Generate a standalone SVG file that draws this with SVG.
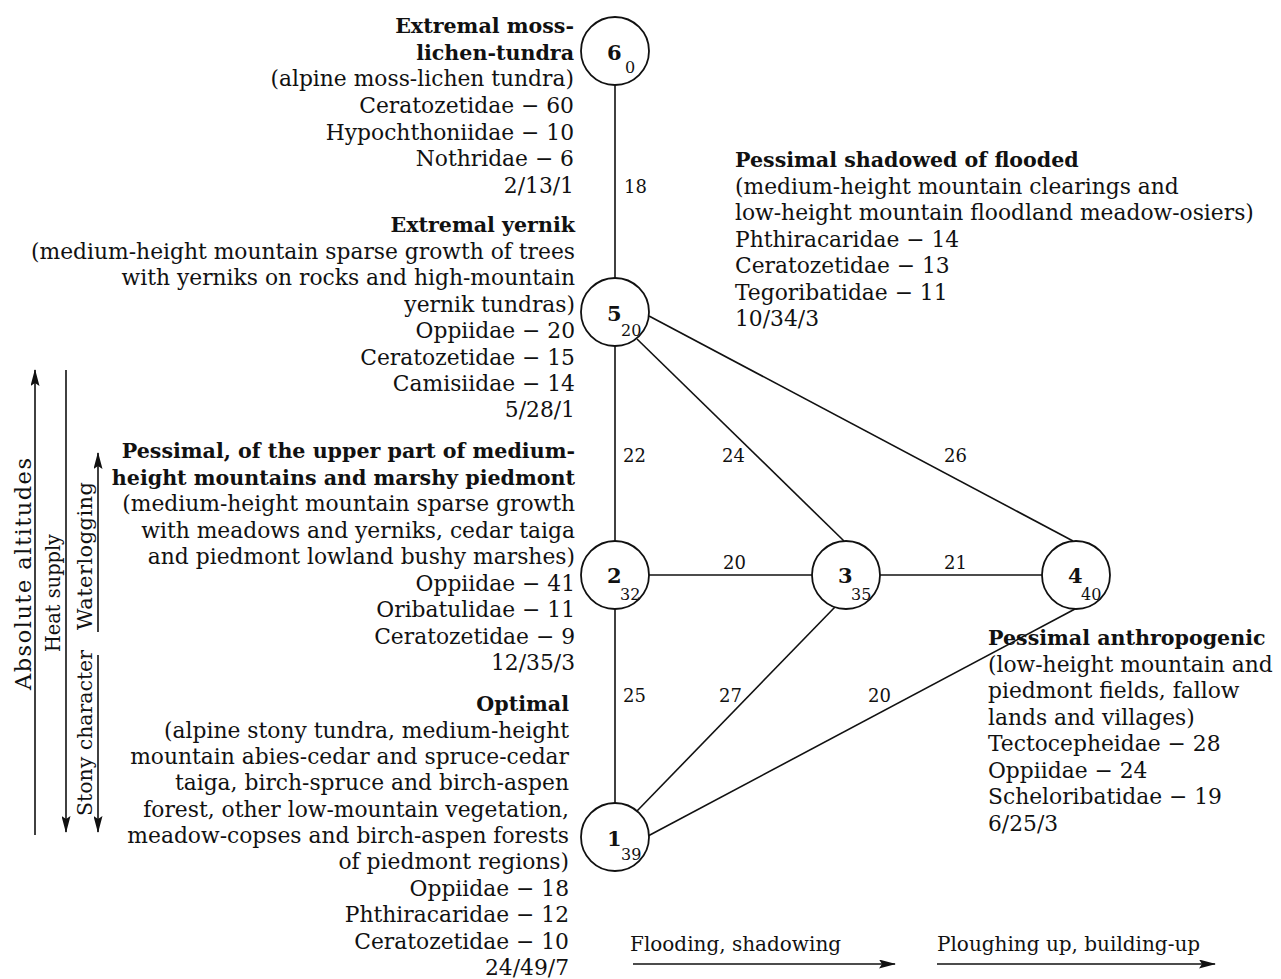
<svg xmlns="http://www.w3.org/2000/svg" width="1281" height="979" viewBox="0 0 1281 979">
<style>
text{font-family:"DejaVu Serif","Liberation Serif",serif;fill:#111;}
.t{font-size:21.8px;}
.b{font-size:20.6px;font-weight:bold;}
.r{text-anchor:end;}
.el{font-size:18px;}
.bl{font-size:20px;}
.vl{font-size:21px;}
.nn{font-size:21px;font-weight:bold;}
.ns{font-size:16px;}
.ln{stroke:#111;stroke-width:1.6;fill:none;}
circle{fill:#fff;stroke:#111;stroke-width:1.8;}
</style>
<defs>
<marker id="ah" viewBox="0 0 17 9" markerWidth="17" markerHeight="9" refX="16" refY="4.5" orient="auto" markerUnits="userSpaceOnUse">
<path d="M0,0 L17,4.5 L0,9 L3,4.5 z" fill="#111"/>
</marker>
</defs>
<rect width="1281" height="979" fill="#fff"/>

<g id="connectors">
<line class="ln" x1="615" y1="85" x2="615" y2="278"/>
<line class="ln" x1="615" y1="346" x2="615" y2="541"/>
<line class="ln" x1="615" y1="609" x2="615" y2="803"/>
<line class="ln" x1="649" y1="575" x2="812" y2="575"/>
<line class="ln" x1="880" y1="575" x2="1042" y2="575"/>
<line class="ln" x1="637" y1="339" x2="844" y2="541"/>
<line class="ln" x1="649" y1="316" x2="1073" y2="541"/>
<line class="ln" x1="637" y1="811" x2="835" y2="607"/>
<line class="ln" x1="648" y1="836" x2="1075" y2="609"/>
<text class="el" x="624" y="193">18</text>
<text class="el" x="623" y="462">22</text>
<text class="el" x="722" y="462">24</text>
<text class="el" x="944" y="462">26</text>
<text class="el" x="723" y="569">20</text>
<text class="el" x="944" y="569">21</text>
<text class="el" x="623" y="702">25</text>
<text class="el" x="719" y="702">27</text>
<text class="el" x="868" y="702">20</text>
</g>

<g id="node6">
<circle cx="615" cy="51" r="34"/>
<text class="nn" x="607" y="60">6</text>
<text class="ns" x="625" y="73">0</text>
</g>
<g id="node5">
<circle cx="615" cy="312" r="34"/>
<text class="nn" x="607" y="321">5</text>
<text class="ns" x="621" y="336">20</text>
</g>
<g id="node2">
<circle cx="615" cy="575" r="34"/>
<text class="nn" x="607" y="583">2</text>
<text class="ns" x="620" y="600">32</text>
</g>
<g id="node3">
<circle cx="846" cy="575" r="34"/>
<text class="nn" x="838" y="583">3</text>
<text class="ns" x="851" y="600">35</text>
</g>
<g id="node4">
<circle cx="1076" cy="575" r="34"/>
<text class="nn" x="1068" y="583">4</text>
<text class="ns" x="1081" y="600">40</text>
</g>
<g id="node1">
<circle cx="615" cy="837" r="34"/>
<text class="nn" x="607" y="846">1</text>
<text class="ns" x="621" y="860">39</text>
</g>

<g id="label6">
<text class="b r" x="574" y="33">Extremal moss-</text>
<text class="b r" x="574" y="60">lichen-tundra</text>
<text class="t r" x="574" y="86">(alpine moss-lichen tundra)</text>
<text class="t r" x="574" y="113">Ceratozetidae − 60</text>
<text class="t r" x="574" y="140">Hypochthoniidae − 10</text>
<text class="t r" x="574" y="166">Nothridae − 6</text>
<text class="t r" x="574" y="193">2/13/1</text>
</g>
<g id="label5">
<text class="b r" x="575" y="232">Extremal yernik</text>
<text class="t r" x="575" y="259">(medium-height mountain sparse growth of trees</text>
<text class="t r" x="575" y="285">with yerniks on rocks and high-mountain</text>
<text class="t r" x="575" y="312">yernik tundras)</text>
<text class="t r" x="575" y="338">Oppiidae − 20</text>
<text class="t r" x="575" y="365">Ceratozetidae − 15</text>
<text class="t r" x="575" y="391">Camisiidae − 14</text>
<text class="t r" x="575" y="417">5/28/1</text>
</g>
<g id="label2">
<text class="b r" x="575" y="458">Pessimal, of the upper part of medium-</text>
<text class="b r" x="575" y="485">height mountains and marshy piedmont</text>
<text class="t r" x="575" y="511">(medium-height mountain sparse growth</text>
<text class="t r" x="575" y="538">with meadows and yerniks, cedar taiga</text>
<text class="t r" x="575" y="564">and piedmont lowland bushy marshes)</text>
<text class="t r" x="575" y="591">Oppiidae − 41</text>
<text class="t r" x="575" y="617">Oribatulidae − 11</text>
<text class="t r" x="575" y="644">Ceratozetidae − 9</text>
<text class="t r" x="575" y="670">12/35/3</text>
</g>
<g id="label1">
<text class="b r" x="569" y="711">Optimal</text>
<text class="t r" x="569" y="738">(alpine stony tundra, medium-height</text>
<text class="t r" x="569" y="764">mountain abies-cedar and spruce-cedar</text>
<text class="t r" x="569" y="790">taiga, birch-spruce and birch-aspen</text>
<text class="t r" x="569" y="817">forest, other low-mountain vegetation,</text>
<text class="t r" x="569" y="843">meadow-copses and birch-aspen forests</text>
<text class="t r" x="569" y="869">of piedmont regions)</text>
<text class="t r" x="569" y="896">Oppiidae − 18</text>
<text class="t r" x="569" y="922">Phthiracaridae − 12</text>
<text class="t r" x="569" y="949">Ceratozetidae − 10</text>
<text class="t r" x="569" y="975">24/49/7</text>
</g>
<g id="label3">
<text class="b" x="735" y="167">Pessimal shadowed of flooded</text>
<text class="t" x="735" y="194">(medium-height mountain clearings and</text>
<text class="t" x="735" y="220">low-height mountain floodland meadow-osiers)</text>
<text class="t" x="735" y="247">Phthiracaridae − 14</text>
<text class="t" x="735" y="273">Ceratozetidae − 13</text>
<text class="t" x="735" y="300">Tegoribatidae − 11</text>
<text class="t" x="735" y="326">10/34/3</text>
</g>
<g id="label4">
<text class="b" x="988" y="645">Pessimal anthropogenic</text>
<text class="t" x="988" y="672">(low-height mountain and</text>
<text class="t" x="988" y="698">piedmont fields, fallow</text>
<text class="t" x="988" y="725">lands and villages)</text>
<text class="t" x="988" y="751">Tectocepheidae − 28</text>
<text class="t" x="988" y="778">Oppiidae − 24</text>
<text class="t" x="988" y="804">Scheloribatidae − 19</text>
<text class="t" x="988" y="831">6/25/3</text>
</g>

<g id="gradients">
<line class="ln" x1="35" y1="835" x2="35" y2="370" marker-end="url(#ah)"/>
<line class="ln" x1="66" y1="370" x2="66" y2="832" marker-end="url(#ah)"/>
<line class="ln" x1="98" y1="632" x2="98" y2="453" marker-end="url(#ah)"/>
<line class="ln" x1="98" y1="655" x2="98" y2="832" marker-end="url(#ah)"/>
<text class="vl" style="font-size:22.5px" transform="translate(31,690) rotate(-90)" textLength="232" lengthAdjust="spacing">Absolute altitudes</text>
<text class="vl" style="font-size:20px" transform="translate(60,652) rotate(-90)" textLength="118" lengthAdjust="spacingAndGlyphs">Heat supply</text>
<text class="vl" transform="translate(92,630) rotate(-90)" textLength="148" lengthAdjust="spacing">Waterlogging</text>
<text class="vl" transform="translate(92,816) rotate(-90)" textLength="166" lengthAdjust="spacingAndGlyphs">Stony character</text>
<line class="ln" x1="633" y1="964" x2="895" y2="964" marker-end="url(#ah)"/>
<line class="ln" x1="937" y1="964" x2="1215" y2="964" marker-end="url(#ah)"/>
<text class="bl" x="630" y="951">Flooding, shadowing</text>
<text class="bl" x="937" y="951">Ploughing up, building-up</text>
</g>
</svg>
